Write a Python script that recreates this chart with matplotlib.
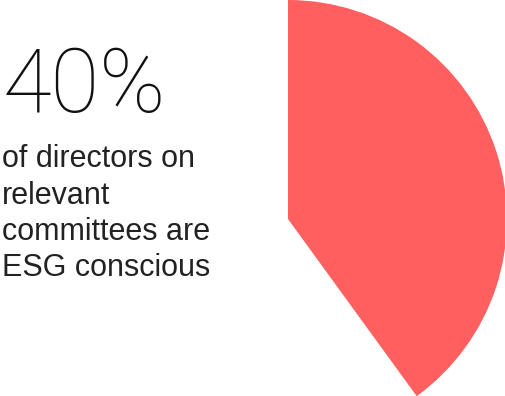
import matplotlib.pyplot as plt
from matplotlib import font_manager

# Share of directors on relevant committees who are ESG conscious
share_pct = 40
rest_pct = 100 - share_pct
headline = f"{share_pct}%"
caption_lines = ["of directors on", "relevant", "committees are", "ESG conscious"]

slice_color = "#FF5F5F"

names = {f.name for f in font_manager.fontManager.ttflist}
head_family = "Roboto" if "Roboto" in names else "DejaVu Sans"
body_family = "Liberation Sans" if "Liberation Sans" in names else "DejaVu Sans"

fig = plt.figure(figsize=(5.06, 3.96), dpi=100)
ax = fig.add_axes([0, 0, 1, 1])

# Pie drawn in pixel-sized data units, clipped by the figure edges
ax.pie([share_pct, rest_pct], colors=[slice_color, "none"], startangle=90,
       counterclock=False, center=(288, 177), radius=219, frame=True,
       wedgeprops=dict(linewidth=0))
ax.set_aspect("equal")
ax.set_xlim(0, 506)
ax.set_ylim(0, 396)
ax.axis("off")

ax.text(2, 284, headline, fontsize=64, fontweight="light", family=head_family,
        color="#111111", va="baseline", ha="left")
y = 229
for line in caption_lines:
    ax.text(2, y, line, fontsize=22, fontweight="normal", family=body_family,
            color="#222222", va="baseline", ha="left")
    y -= 36.5

fig.savefig("out.png", dpi=100)
